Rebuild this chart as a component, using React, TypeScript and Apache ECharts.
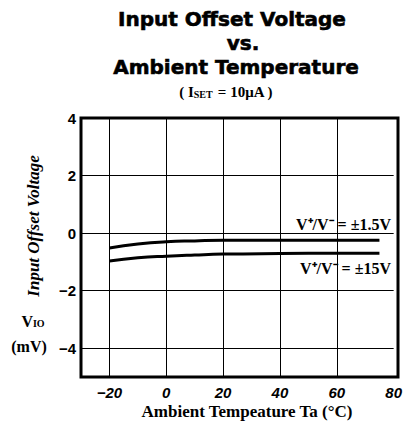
import React, { useEffect, useRef } from "react";
import * as echarts from "echarts";

const temps15 = [-20, -10, 0, 10, 20, 40, 60, 75];
const vio15 = [-0.52, -0.38, -0.3, -0.27, -0.25, -0.25, -0.25, -0.25];
const temps150 = [-20, -10, 0, 10, 20, 40, 60, 75];
const vio150 = [-0.97, -0.86, -0.8, -0.76, -0.73, -0.71, -0.7, -0.7];
const xTicks = [-20, 0, 20, 40, 60, 80];
const yTicks = [4, 2, 0, -2, -4];
const xGrid = [-20, 0, 20, 40, 60];
const yGrid = [2, 0, -2, -4];

const fmt = (v: number) => (v < 0 ? "\u2212" + Math.abs(v) : String(v));

export default function App() {
  const ref = useRef<HTMLDivElement>(null);
  useEffect(() => {
    const chart = echarts.init(ref.current!, null, { renderer: "svg" });
    const serif = "Liberation Serif, Times New Roman, serif";
    const sans = "Liberation Sans, Arial, sans-serif";
    const heavy = "DejaVu Sans, sans-serif";
    chart.setOption({
      animation: false,
      backgroundColor: "#fff",
      grid: { left: 81, right: 7, top: 118, bottom: 48 },
      xAxis: {
        type: "value",
        min: -30,
        max: 80,
        interval: 10,
        axisLine: { show: false },
        axisTick: { show: false },
        splitLine: { show: false },
        axisLabel: {
          color: "#000",
          fontFamily: sans,
          fontWeight: "bold",
          fontStyle: "italic",
          fontSize: 15,
          margin: 8,
          showMinLabel: false,
          formatter: (v: number) => (xTicks.includes(v) ? fmt(v) : ""),
        },
      },
      yAxis: {
        type: "value",
        min: -5,
        max: 4,
        interval: 1,
        axisLine: { show: false },
        axisTick: { show: false },
        splitLine: { show: false },
        axisLabel: {
          color: "#000",
          fontFamily: sans,
          fontWeight: "bold",
          fontSize: 15,
          margin: 5,
          formatter: (v: number) => (yTicks.includes(v) ? fmt(v) : ""),
        },
      },
      series: [
        {
          type: "line",
          smooth: true,
          symbol: "none",
          data: temps15.map((t, i) => [t, vio15[i]]),
          lineStyle: { color: "#000", width: 3 },
          z: 5,
          markLine: {
            silent: true,
            symbol: "none",
            label: { show: false },
            lineStyle: { color: "#000", width: 1, type: "solid" },
            data: [
              ...xGrid.map((v) => ({ xAxis: v })),
              ...yGrid.map((v) => ({ yAxis: v })),
            ],
          },
        },
        {
          type: "line",
          smooth: true,
          symbol: "none",
          data: temps150.map((t, i) => [t, vio150[i]]),
          lineStyle: { color: "#000", width: 3 },
          z: 5,
        },
      ],
      graphic: [
        {
          type: "rect",
          shape: { x: 81, y: 118, width: 317, height: 259 },
          style: { fill: "none", stroke: "#000", lineWidth: 3 },
          z: 100,
        },
        {
          type: "text",
          x: 232, y: 19,
          style: { text: "Input Offset Voltage", font: `bold 20px ${heavy}`, fill: "#000", stroke: "#000", lineWidth: 0.6, align: "center", verticalAlign: "middle" },
        },
        {
          type: "text",
          x: 243, y: 43,
          style: { text: "vs.", font: `bold 20px ${heavy}`, fill: "#000", stroke: "#000", lineWidth: 0.6, align: "center", verticalAlign: "middle" },
        },
        {
          type: "text",
          x: 236, y: 67,
          style: { text: "Ambient Temperature", font: `bold 20px ${heavy}`, fill: "#000", stroke: "#000", lineWidth: 0.6, align: "center", verticalAlign: "middle" },
        },
        {
          type: "text",
          x: 226, y: 92,
          style: {
            text: "( I{s|SET} = 10\u03bcA )",
            font: `bold 15px ${serif}`,
            fill: "#000",
            align: "center",
            verticalAlign: "middle",
            rich: { s: { fontSize: 10, fontWeight: "bold", fontFamily: serif, padding: [5, 1, 0, 0] } },
          },
        },
        {
          type: "text",
          x: 33, y: 226, rotation: Math.PI / 2,
          style: { text: "Input Offset Voltage", font: `italic bold 17px ${serif}`, fill: "#000", align: "center", verticalAlign: "middle" },
        },
        {
          type: "text",
          x: 33, y: 321,
          style: {
            text: "V{s|IO}",
            font: `bold 16px ${serif}`,
            fill: "#000",
            align: "center",
            verticalAlign: "middle",
            rich: { s: { fontSize: 10, fontWeight: "bold", fontFamily: serif, padding: [5, 0, 0, 0] } },
          },
        },
        {
          type: "text",
          x: 29, y: 346,
          style: { text: "(mV)", font: `bold 16px ${serif}`, fill: "#000", align: "center", verticalAlign: "middle" },
        },
        {
          type: "text",
          x: 391, y: 224,
          style: { text: "V\u207a/V\u207b = \u00b11.5V", font: `bold 16px ${serif}`, fill: "#000", align: "right", verticalAlign: "middle" },
        },
        {
          type: "text",
          x: 391, y: 268,
          style: { text: "V\u207a/V\u207b = \u00b115V", font: `bold 16px ${serif}`, fill: "#000", align: "right", verticalAlign: "middle" },
        },
        {
          type: "text",
          x: 247, y: 411,
          style: { text: "Ambient Tempeature Ta (\u00b0C)", font: `bold 17px ${serif}`, fill: "#000", align: "center", verticalAlign: "middle" },
        },
      ],
    });
    return () => chart.dispose();
  }, []);
  return <div ref={ref} style={{ width: 405, height: 425, position: "absolute", left: 0, top: 0 }} />;
}
